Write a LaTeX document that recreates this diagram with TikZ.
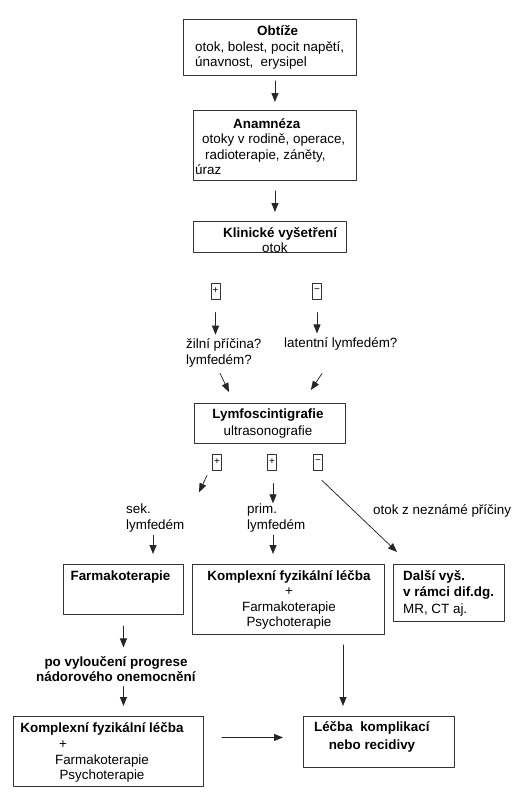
\documentclass[tikz,border=0pt]{standalone}
\usepackage{fontspec}
\setmainfont{Liberation Sans}
\usetikzlibrary{arrows.meta}
\begin{document}
\begin{tikzpicture}[x=1pt,y=-1pt, line join=round, line cap=round,
        font=\fontsize{13.4}{15.5}\selectfont,
        box/.style={draw=black!80, line width=0.9pt, inner sep=0pt, anchor=north west},
        txt/.style={inner sep=0pt, anchor=west, align=left},
        ctxt/.style={inner sep=0pt, align=center},
        sign/.style={draw=black!80, line width=0.9pt, minimum width=9pt, minimum height=16pt, inner sep=0pt, font=\fontsize{10}{10}\selectfont},
        arr/.style={-{Triangle[length=9pt,width=7pt]}, line width=0.75pt, black!85}]
    \useasboundingbox (0,0) rectangle (526,800);
    % boxes
    \node[box, minimum width=173pt, minimum height=56pt] (obtize) at (183,19) {};
    \node[box, minimum width=163pt, minimum height=70pt] (anamneza) at (193,110) {};
    \node[box, minimum width=153pt, minimum height=31pt] (klinicke) at (193,221) {};
    \node[box, minimum width=151pt, minimum height=40pt] (lymfo) at (194,403) {};
    \node[box, minimum width=120pt, minimum height=50pt] (farmako) at (63,564) {};
    \node[box, minimum width=192pt, minimum height=70pt] (komplex) at (192,564) {};
    \node[box, minimum width=111pt, minimum height=57pt] (dalsi) at (393,564) {};
    \node[box, minimum width=190pt, minimum height=70pt] (komplex2) at (13,716) {};
    \node[box, minimum width=151pt, minimum height=51pt] (lecba) at (303,716) {};
    % box texts
    \node[txt] (obtize-t) at (195,47.5) {\hspace*{62pt}\textbf{Obtíže}\\otok, bolest, pocit napětí,\\únavnost,\ \ erysipel};
    \node[txt] (anamneza-t) at (195,146.5) {\hspace*{38pt}\textbf{Anamnéza}\\\hspace*{7pt}otoky v rodině, operace,\\\hspace*{10pt}radioterapie, záněty,\\úraz};
    \node[txt] (klinicke-t) at (223,240) {\textbf{Klinické vyšetření}\\\hspace*{39pt}otok};
    \node[ctxt] (lymfo-t) at (268,423.5) {\textbf{Lymfoscintigrafie}\\[1pt]ultrasonografie};
    \node[ctxt] (farmako-t) at (120.5,577) {\textbf{Farmakoterapie}};
    \node[ctxt] (komplex-t) at (289,600) {\textbf{Komplexní fyzikální léčba}\\+\\Farmakoterapie\\Psychoterapie};
    \node[txt] (dalsi-t) at (403,593.5) {\textbf{Další vyš.}\\\textbf{v rámci dif.dg.}\\[2pt]MR, CT aj.};
    \node[ctxt] (komplex2-t) at (102,752.5) {\textbf{Komplexní fyzikální léčba}\\[1pt]\hspace*{-78pt}+\\Farmakoterapie\\Psychoterapie};
    \node[ctxt] (lecba-t) at (372,737) {\textbf{Léčba\ \ komplikací}\\[2pt]\textbf{nebo recidivy}};
    % free texts
    \node[txt] (zilni) at (186,353) {žilní příčina?\\lymfedém?};
    \node[txt] (latent) at (284,344) {latentní lymfedém?};
    \node[txt] (sek) at (126,518) {sek.\\lymfedém};
    \node[txt] (prim) at (247,518) {prim.\\lymfedém};
    \node[txt] (neznama) at (373,511) {otok z neznámé příčiny};
    \node[ctxt] (progrese) at (116,669) {\textbf{po vyloučení progrese}\\\textbf{nádorového onemocnění}};
    % signs
    \node[sign] (plus1) at (215.5,291) {+};
    \node[sign] (minus1) at (317,291) {−};
    \node[sign] (plus2) at (217,462) {+};
    \node[sign] (plus3) at (272,462) {+};
    \node[sign] (minus2) at (318,462) {−};
    % arrows
    \draw[arr, shorten <=5pt, shorten >=8pt] (obtize.south -| anamneza.north) -- (anamneza.north);
    \draw[arr, shorten <=10pt, shorten >=9pt] (anamneza.south) -- (anamneza.south |- klinicke.north);
    \draw[arr, shorten <=13pt, shorten >=4pt] (plus1.south) -- (plus1.south |- zilni.north);
    \draw[arr, shorten <=13pt, shorten >=4pt] (minus1.south) -- (minus1.south |- latent.north);
    \draw[arr] ([xshift=34pt,yshift=-6pt]zilni.south west) -- ([xshift=35pt,yshift=11pt]lymfo.north west);
    \draw[arr] ([xshift=38pt,yshift=-23pt]latent.south west) -- ([xshift=-35pt,yshift=13pt]lymfo.north east);
    \draw[arr] ([xshift=-10pt,yshift=-5pt]plus2.south) -- ([xshift=73pt,yshift=11.5pt]sek.north west);
    \draw[arr, shorten <=13pt, shorten >=0.5pt] ([xshift=1pt]plus3.south) -- ([xshift=1pt]plus3.south |- prim.north);
    \draw[arr] ([xshift=4pt,yshift=-10pt]minus2.south) -- ([xshift=4pt,yshift=12pt]dalsi.north west);
    \draw[arr, shorten <=3pt, shorten >=10pt] ([xshift=27pt]sek.south west) -- ([xshift=90pt]farmako.north west);
    \draw[arr, shorten <=3pt, shorten >=10pt] ([xshift=26pt]prim.south west) -- ([xshift=81pt]komplex.north west);
    \draw[arr, shorten <=11pt, shorten >=8.5pt] (farmako.south) -- (farmako.south |- progrese.north);
    \draw[arr, shorten <=4.5pt, shorten >=10pt] (farmako.south |- progrese.south) -- (farmako.south |- komplex2.north);
    \draw[arr, shorten <=10pt, shorten >=10pt] ([xshift=151pt]komplex.south west) -- ([xshift=151pt]komplex.south west |- lecba.north);
    \draw[arr, shorten <=18pt, shorten >=20pt] ([yshift=14pt]komplex2.east) -- ([yshift=14pt]komplex2.east -| lecba.west);
\end{tikzpicture}
\end{document}
